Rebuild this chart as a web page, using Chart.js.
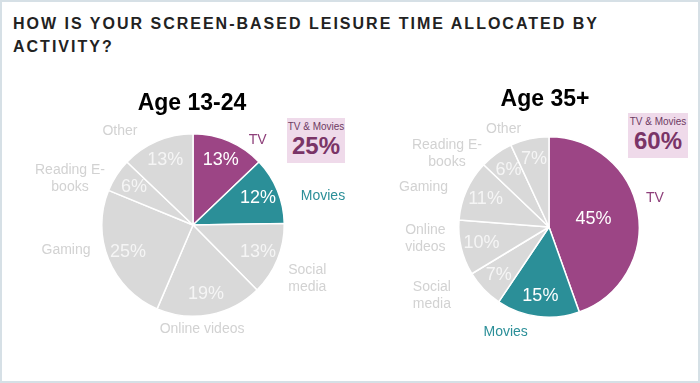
<!DOCTYPE html>
<html><head><meta charset="utf-8">
<script src="https://cdn.jsdelivr.net/npm/chart.js@4.4.1/dist/chart.umd.min.js"></script>
<style>
html,body{margin:0;padding:0;background:#fff;}
#page{position:relative;width:700px;height:383px;overflow:hidden;font-family:"Liberation Sans",Arial,sans-serif;}
#frame{position:absolute;left:0;top:0;width:700px;height:383px;box-sizing:border-box;border:2px solid #d6e0e6;pointer-events:none;}
#title{position:absolute;left:13px;top:12px;font-weight:bold;font-size:16px;letter-spacing:2px;line-height:23px;color:#222;white-space:nowrap;}
.sub{position:absolute;font-weight:bold;font-size:23px;line-height:26px;color:#000;transform:translateX(-50%);white-space:nowrap;}
.box{position:absolute;background:#efdaea;text-align:center;color:#7d3a6c;width:58px;height:45px;}
.box .s{font-size:10px;line-height:12px;margin-top:3px;color:#6e3a62;}
.box .b{font-size:24px;font-weight:bold;line-height:26px;color:#7a3467;}
canvas{position:absolute;}
</style></head>
<body>
<div id="page">
  <div id="title">HOW IS YOUR SCREEN-BASED LEISURE TIME ALLOCATED BY<br>ACTIVITY?</div>
  <canvas id="c1" width="350" height="240" style="left:0;top:110px;width:350px;height:240px"></canvas>
  <canvas id="c2" width="350" height="240" style="left:350px;top:110px;width:350px;height:240px"></canvas>
  <div class="sub" style="left:192px;top:89px">Age 13-24</div>
  <div class="sub" style="left:545px;top:85px">Age 35+</div>
  <div class="box" style="left:287px;top:118px"><div class="s">TV &amp; Movies</div><div class="b" id="sum1"></div></div>
  <div class="box" style="left:628px;top:113px;width:60px"><div class="s">TV &amp; Movies</div><div class="b" id="sum2"></div></div>
  <div id="frame"></div>
</div>
<script>
// ---- data ----
const youngLabels = ['TV', 'Movies', ['Social', 'media'], 'Online videos', 'Gaming', ['Reading E-', 'books'], 'Other'];
const youngValues = [13, 12, 13, 19, 25, 6, 13];
const olderLabels = ['TV', 'Movies', ['Social', 'media'], ['Online', 'videos'], 'Gaming', ['Reading E-', 'books'], 'Other'];
const olderValues = [45, 15, 7, 10, 11, 6, 7];
const youngTvMovies = 25;
const olderTvMovies = 60;

document.getElementById('sum1').textContent = youngTvMovies + '%';
document.getElementById('sum2').textContent = olderTvMovies + '%';

const PURPLE = '#9c4585', TEAL = '#2b8f98', GREY = '#d9d9d9';
const sliceColors = [PURPLE, TEAL, GREY, GREY, GREY, GREY, GREY];
const catColors = ['#8e3f7a', '#2b8f98', '#d2d2d2', '#d2d2d2', '#d2d2d2', '#d2d2d2', '#d2d2d2'];
const pctColors = ['#ffffff', '#ffffff', '#f5f5f5', '#f5f5f5', '#f5f5f5', '#f5f5f5', '#f5f5f5'];

// label placement tweaks (pixels) to follow the original's hand-placed labels
const youngNudge = [[22, 15], [18, 17], [2, 8], [-12, -7], [-13, -22], [-9, 28], [-29, 9]];
const olderNudge = [[1, -11], [-30, -1], [-29, -15], [-7, -16], [-14, 10], [-26, 33], [-22, 8]];

const labelPlugin = {
  id: 'sliceLabels',
  afterDatasetsDraw(chart, args, opts) {
    const ctx = chart.ctx;
    const meta = chart.getDatasetMeta(0);
    const ds = chart.data.datasets[0];
    const total = ds.data.reduce((a, b) => a + b, 0);
    meta.data.forEach((arc, i) => {
      const p = arc.getProps(['x', 'y', 'startAngle', 'endAngle', 'outerRadius'], true);
      const mid = (p.startAngle + p.endAngle) / 2;
      const ux = Math.cos(mid), uy = Math.sin(mid);
      const share = ds.data[i] / total;
      const rf = share > 0.3 ? 0.5 : 0.77;
      ctx.save();
      ctx.textAlign = 'center';
      ctx.textBaseline = 'middle';
      ctx.font = opts.pctFont;
      ctx.fillStyle = opts.pctColors[i];
      ctx.fillText(ds.data[i] + '%', p.x + ux * p.outerRadius * rf, p.y + uy * p.outerRadius * rf);
      const lines = [].concat(chart.data.labels[i]);
      ctx.font = opts.catFont;
      const lh = opts.lineHeight;
      const w = Math.max(...lines.map(l => ctx.measureText(l).width));
      const h = lines.length * lh;
      const d = p.outerRadius + opts.gap + Math.abs(ux) * w / 2 + Math.abs(uy) * h / 2;
      const nudge = (opts.nudge && opts.nudge[i]) || [0, 0];
      const cx = p.x + ux * d + nudge[0], cy = p.y + uy * d + nudge[1];
      ctx.fillStyle = opts.catColors[i];
      lines.forEach((l, k) => ctx.fillText(l, cx, cy - h / 2 + lh / 2 + k * lh));
      ctx.restore();
    });
  }
};

function makePie(id, labels, values, padding, nudge) {
  return new Chart(document.getElementById(id), {
    type: 'pie',
    data: {
      labels: labels,
      datasets: [{
        data: values,
        backgroundColor: sliceColors,
        borderColor: '#ffffff',
        borderWidth: 1.5
      }]
    },
    options: {
      responsive: false,
      animation: false,
      layout: { padding: padding },
      plugins: {
        legend: { display: false },
        tooltip: { enabled: false },
        sliceLabels: {
          pctFont: '18px "Liberation Sans", Arial, sans-serif',
          catFont: '14px "Liberation Sans", Arial, sans-serif',
          lineHeight: 17,
          gap: 6,
          pctColors: pctColors,
          catColors: catColors,
          nudge: nudge
        }
      }
    },
    plugins: [labelPlugin]
  });
}

makePie('c1', youngLabels, youngValues, { left: 101, right: 65, top: 23, bottom: 33 }, youngNudge);
makePie('c2', olderLabels, olderValues, { left: 108, right: 60, top: 26, bottom: 32 }, olderNudge);
</script>
</body></html>
